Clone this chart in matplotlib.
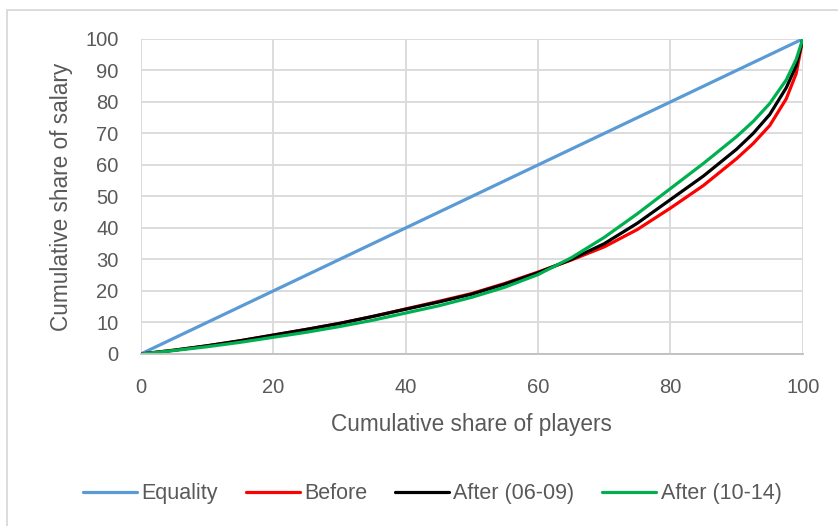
import matplotlib.pyplot as plt
from matplotlib.patches import Rectangle

# Cumulative share of players (x) and salary (y)
players = [0, 5, 10, 15, 20, 25, 30, 35, 40, 45, 50, 55, 60, 65, 70, 75, 80,
           85, 90, 92.5, 95, 97.5, 99, 100]
equality = list(players)
before = [0, 1.2, 2.6, 4.2, 6.0, 7.8, 9.7, 11.9, 14.3, 16.7, 19.2, 22.4, 26.0,
          29.8, 34.0, 39.5, 46.3, 53.5, 62.0, 66.8, 72.5, 81.0, 89.0, 100]
after_06_09 = [0, 1.2, 2.6, 4.2, 6.0, 7.8, 9.7, 11.9, 14.2, 16.5, 19.0, 22.2, 25.8,
               30.0, 35.0, 41.5, 49.0, 56.5, 65.0, 70.0, 76.0, 84.5, 91.5, 100]
after_10_14 = [0, 1.1, 2.3, 3.7, 5.3, 6.9, 8.7, 10.7, 13.0, 15.3, 18.0, 21.2, 25.2,
               30.5, 37.0, 44.5, 52.5, 60.5, 69.0, 73.8, 79.5, 87.0, 93.5, 100]

series = [
    ('Equality', equality, '#5B9BD5'),
    ('Before', before, '#FF0000'),
    ('After (06-09)', after_06_09, '#000000'),
    ('After (10-14)', after_10_14, '#00B050'),
]

plt.rcParams['font.family'] = ['Liberation Sans', 'DejaVu Sans']
text_color = '#595959'
grid_color = '#D9D9D9'

fig = plt.figure(figsize=(8.38, 5.26), dpi=100)
ax = fig.add_axes([0.168, 0.327, 0.79, 0.599])

for name, vals, color in series:
    ax.plot(players, vals, color=color, lw=2.3, label=name, solid_capstyle='round',
            solid_joinstyle='round')

ax.set_xlim(0, 100)
ax.set_ylim(0, 100)
ax.set_xticks(range(0, 101, 20))
ax.set_yticks(range(0, 101, 10))
ax.grid(True, color=grid_color, lw=1.3)
ax.set_axisbelow(True)
for side in ['top', 'right', 'left']:
    ax.spines[side].set_visible(False)
ax.spines['bottom'].set_color('#BFBFBF')
ax.spines['bottom'].set_linewidth(1.3)
ax.tick_params(length=0, colors=text_color, labelsize=14.5)
ax.tick_params(axis='x', pad=17)
ax.tick_params(axis='y', pad=16)

ax.set_xlabel('Cumulative share of players', fontsize=16.3, color=text_color, labelpad=12)
ax.set_ylabel('Cumulative share of salary', fontsize=16.3, color=text_color, labelpad=9)

fig.legend(loc='center', bbox_to_anchor=(0.516, 0.061), ncol=4, frameon=False,
           fontsize=15.5, handlelength=2.5, handletextpad=0.2, columnspacing=1.3,
           labelcolor=text_color)

# chart area border (left and top edges visible in the reference)
fig.patches.append(Rectangle((0.0084, -0.02), 1.1, 1.001, transform=fig.transFigure,
                             fill=False, edgecolor=grid_color, lw=1.3))

fig.savefig('out.png', dpi=100)
